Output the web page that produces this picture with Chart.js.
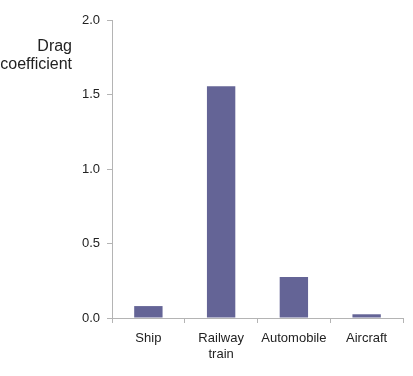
<!DOCTYPE html>
<html>
<head>
<meta charset="utf-8">
<script src="https://cdn.jsdelivr.net/npm/chart.js@4/dist/chart.umd.min.js"></script>
<style>
  html, body { margin: 0; padding: 0; background: #fff; }
  #wrap { width: 413px; height: 376px; position: relative; }
</style>
</head>
<body>
<div id="wrap"><canvas id="grafico"></canvas></div>
<script>
const categorias = [['Ship'], ['Railway', 'train'], ['Automobile'], ['Aircraft']]
const coeficientes = [0.08, 1.555, 0.275, 0.025]
const ticksY = [0, 0.5, 1.0, 1.5, 2.0]
const tituloY = ['Drag', 'coefficient']

const colorEje = '#b4b4b4'
const colorTexto = '#222222'

// titulo horizontal del eje Y, alineado a la derecha
const pluginTitulo = {
    id: 'tituloY',
    afterDraw(chart) {
        let ctx = chart.ctx
        ctx.save()
        ctx.font = '16px "Liberation Sans", Arial, sans-serif'
        ctx.fillStyle = colorTexto
        ctx.textAlign = 'right'
        ctx.textBaseline = 'middle'
        ctx.fillText(tituloY[0], 72, 47)
        ctx.fillText(tituloY[1], 72, 65)
        ctx.restore()
    }
}

let grafico = new Chart(document.getElementById('grafico'), {
    type: 'bar',
    plugins: [pluginTitulo],
    data: {
        labels: categorias,
        datasets: [{
            data: coeficientes,
            backgroundColor: '#646496',
            barPercentage: 0.39,
            categoryPercentage: 1.0,
        }]
    },
    options: {
        responsive: true,
        maintainAspectRatio: false,
        animation: false,
        layout: { padding: { top: 20, right: 10, left: 0, bottom: 0 } },
        plugins: { legend: { display: false }, tooltip: { enabled: false } },
        scales: {
            x: {
                grid: { display: true, drawOnChartArea: false, color: colorEje, tickLength: 5, offset: true },
                border: { color: colorEje },
                ticks: {
                    color: colorTexto,
                    padding: 8,
                    maxRotation: 0,
                    font: { family: '"Liberation Sans", Arial, sans-serif', size: 13, lineHeight: 1.2 },
                },
                afterFit(escala) { escala.height = 58 },
            },
            y: {
                min: 0,
                max: 2,
                afterBuildTicks(escala) { escala.ticks = ticksY.map(v => ({ value: v })) },
                grid: { display: true, drawOnChartArea: false, color: colorEje, tickLength: 5 },
                border: { color: colorEje },
                ticks: {
                    color: colorTexto,
                    padding: 7,
                    callback: v => Number(v).toFixed(1),
                    font: { family: '"Liberation Sans", Arial, sans-serif', size: 13 },
                },
                afterFit(escala) { escala.width = 112 },
            }
        }
    }
})
</script>
</body>
</html>
